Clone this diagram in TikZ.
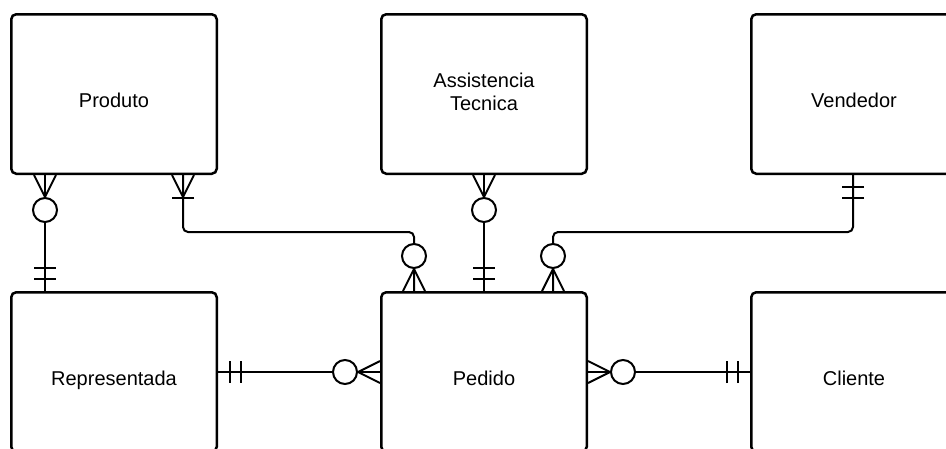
\documentclass[tikz,border=0pt]{standalone}
\usepackage{fontspec}
\setmainfont{Liberation Sans}
\usetikzlibrary{positioning}

\tikzset{
  zeromany/.pic={
    \draw[line width=2pt] (0,-11)--(22,0)--(0,11);
    \draw[line width=2pt, fill=white] (35,0) circle (12pt);
  },
  onemany/.pic={
    \draw[line width=2pt] (0,-11)--(22,0)--(0,11);
    \draw[line width=2pt] (23,-11)--(23,11);
  },
  onlyone/.pic={
    \draw[line width=2pt] (12,-11)--(12,11) (23,-11)--(23,11);
  }
}

\begin{document}
\begin{tikzpicture}[x=1pt,y=-1pt]
\tikzstyle{entity} = [rectangle, rounded corners=5pt, minimum width=205.5pt, minimum height=159.5pt, inner sep=0pt, line width=2.5pt, draw=black, font=\fontsize{20}{23}\selectfont, text centered]
\tikzstyle{oneline} = [text height=26pt, text depth=0pt]
\tikzstyle{link} = [line width=2pt, rounded corners=5pt]

\useasboundingbox (0,0) rectangle (946,448);
\clip (0,0) rectangle (946,448);

%nodes
\node (produto) [entity, oneline] at (114,94) {Produto};
\node (assist) [entity, align=center, text depth=5pt, right=162pt of produto] {Assistencia\\Tecnica};
\node (vendedor) [entity, oneline, right=162pt of assist] {Vendedor};
\node (represent) [entity, oneline, below=116pt of produto] {Representada};
\node (pedido) [entity, oneline, below=116pt of assist] {Pedido};
\node (cliente) [entity, oneline, below=116pt of vendedor] {Cliente};

\coordinate (p1) at ([xshift=35pt]produto.south west);
\coordinate (r1) at ([xshift=35pt]represent.north west);
\coordinate (p2) at ([xshift=-35pt]produto.south east);
\coordinate (d1) at ([xshift=34pt]pedido.north west);
\coordinate (d2) at ([xshift=-35pt]pedido.north east);
\coordinate (v1) at ([xshift=-1pt]vendedor.south);
\coordinate (mid) at (0,232);

%lines
\draw[link] (p1) -- (r1);
\draw[link] (p2) -- (p2 |- mid) -- (d1 |- mid) -- (d1);
\draw[link] (assist.south) -- (pedido.north);
\draw[link] (v1) -- (v1 |- mid) -- (d2 |- mid) -- (d2);
\draw[link] (represent.east) -- (pedido.west);
\draw[link] (pedido.east) -- (cliente.west);

%ends
\pic[rotate=-90] at (p1) {zeromany};
\pic[rotate=90] at (r1) {onlyone};
\pic[rotate=-90] at (p2) {onemany};
\pic[rotate=90] at (d1) {zeromany};
\pic[rotate=-90] at (assist.south) {zeromany};
\pic[rotate=90] at (pedido.north) {onlyone};
\pic[rotate=-90] at (v1) {onlyone};
\pic[rotate=90] at (d2) {zeromany};
\pic at (represent.east) {onlyone};
\pic[rotate=180] at (pedido.west) {zeromany};
\pic at (pedido.east) {zeromany};
\pic[rotate=180] at (cliente.west) {onlyone};

\end{tikzpicture}
\end{document}
